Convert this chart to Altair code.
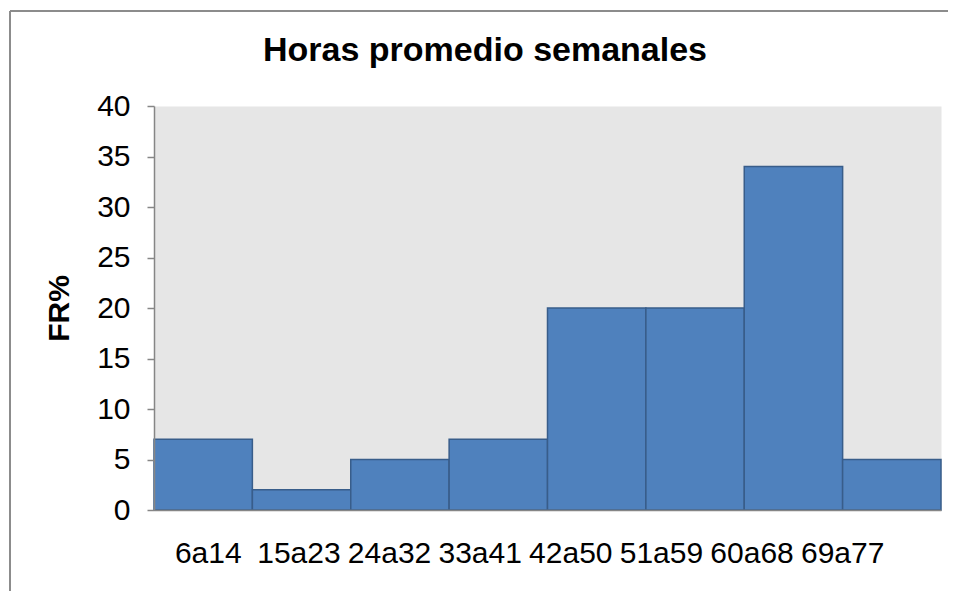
import altair as alt
import pandas as pd

categories = ["6a14", "15a23", "24a32", "33a41", "42a50", "51a59", "60a68", "69a77"]
fr_values = [7, 2, 5, 7, 20, 20, 34, 5]
y_ticks = [0, 5, 10, 15, 20, 25, 30, 35, 40]

FONT = "Liberation Sans"
GRAY = "#868686"

df = pd.DataFrame({"cat": categories, "fr": fr_values})
one = pd.DataFrame({"k": [0]})

bars = alt.Chart(df).mark_bar(
    color="#4F81BD", stroke="#385D8A", strokeWidth=1.5
).encode(
    x=alt.X("cat:N", sort=categories,
            scale=alt.Scale(paddingInner=0, paddingOuter=0),
            axis=alt.Axis(labels=False, ticks=False, title=None,
                          domainColor=GRAY, domainWidth=1.5, zindex=1)),
    y=alt.Y("fr:Q", scale=alt.Scale(domain=[0, 40], nice=False),
            axis=alt.Axis(values=y_ticks, grid=False, tickSize=7,
                          tickColor=GRAY, tickWidth=1.5, domainColor=GRAY,
                          domainWidth=1.5, labelPadding=17,
                          labelFont=FONT, labelFontSize=30, labelColor="black",
                          title="FR%", titleFont=FONT, titleColor="black",
                          titleFontWeight="bold", titleFontSize=30,
                          titlePadding=22, zindex=1)),
)

labels = alt.Chart(df).mark_text(
    fontSize=30, font=FONT, baseline="alphabetic", color="black"
).encode(
    x=alt.X("cat:N", sort=categories,
            scale=alt.Scale(range=[9, 734], paddingInner=0, paddingOuter=0),
            axis=None),
    y=alt.value(457),
    text="cat:N",
)

frame_top = alt.Chart(one).mark_rule(color="#8C8C8C", strokeWidth=2).encode(
    x=alt.value(-144), x2=alt.value(794), y=alt.value(-95)
)
frame_left = alt.Chart(one).mark_rule(color="#8C8C8C", strokeWidth=2).encode(
    x=alt.value(-144), y=alt.value(-95), y2=alt.value(485)
)

chart = alt.layer(bars, labels, frame_top, frame_left).resolve_scale(
    x="independent"
).properties(
    width=787,
    height=404,
    background="white",
    padding={"left": 1, "top": 2, "right": 0, "bottom": 0},
    title=alt.TitleParams(
        "Horas promedio semanales", fontSize=34, fontWeight="bold", font=FONT,
        anchor="middle", frame="bounds", baseline="alphabetic", offset=0,
        dy=85, dx=6, color="black"
    ),
).configure_view(
    fill="#E6E6E6", stroke="transparent"
)

chart.save("out.html", embed_options={"renderer": "svg", "actions": False})
